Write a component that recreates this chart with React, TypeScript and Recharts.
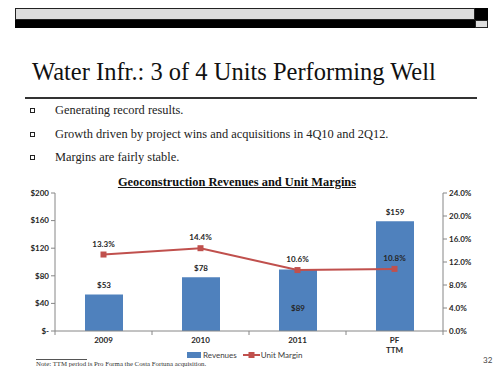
import { ComposedChart, Bar, Line, XAxis, YAxis, Legend, LabelList } from "recharts";

// Geoconstruction figures ($M revenues, unit margin %)
const categories = ["2009", "2010", "2011", "PF TTM"];
const revenues = [53, 78, 89, 159];
const margins = [13.3, 14.4, 10.6, 10.8];
const revenueTicks = [0, 40, 80, 120, 160, 200];
const marginTicks = [0, 4, 8, 12, 16, 20, 24];
const bullets = [
  "Generating record results.",
  "Growth driven by project wins and acquisitions in 4Q10 and 2Q12.",
  "Margins are fairly stable.",
];

const data = categories.map((name, i) => ({ name, revenue: revenues[i], margin: margins[i] }));

const BLUE = "#4F81BD";
const RED = "#C0504D";
const AXIS = "#868686";
const SANS = "Lato, 'Open Sans', sans-serif";
const SERIF = "'Liberation Serif', serif";
const LABEL_STYLE = { fontFamily: SANS, fontSize: 8, fontWeight: 700, fill: "#262626" };

// the $89 label sits inside its bar in the original
const INSIDE = [false, false, true, false];

function CategoryTick(props: any) {
  const { x, y, payload, index, visibleTicksCount } = props;
  const lines = String(payload.value).split(" ");
  const half = 48.5;
  const axisY = y - 6;
  return (
    <g>
      {index === 0 && <line x1={x - half} x2={x - half} y1={axisY} y2={axisY + 4} stroke={AXIS} />}
      {index < (visibleTicksCount ?? 4) && (
        <line x1={x + half} x2={x + half} y1={axisY} y2={axisY + 4} stroke={AXIS} />
      )}
      {lines.map((l, i) => (
        <text key={i} x={x} y={y + i * 10} dy="0.71em" textAnchor="middle" {...LABEL_STYLE}>
          {l}
        </text>
      ))}
    </g>
  );
}

function RevenueLabel(props: any) {
  const { x, y, width, height, value, index } = props;
  const cx = x + width / 2;
  const ty = INSIDE[index] ? y + height * 0.62 : y - 9;
  return (
    <text x={cx} y={ty} textAnchor="middle" dominantBaseline="central" {...LABEL_STYLE}>
      ${value}
    </text>
  );
}

function MarginLabel(props: any) {
  const { x, y, value } = props;
  return (
    <text x={x} y={y - 11} textAnchor="middle" dominantBaseline="central" {...LABEL_STYLE}>
      {Number(value).toFixed(1)}%
    </text>
  );
}

function SquareDot(props: any) {
  const { cx, cy } = props;
  if (cx == null || cy == null) return null;
  return <rect x={cx - 3} y={cy - 3} width={6} height={6} fill={RED} />;
}

function LegendContent() {
  const txt = { fontFamily: SANS, fontSize: 8, color: "#404040" };
  return (
    <div style={{ display: "flex", alignItems: "center", ...txt }}>
      <span style={{ width: 14, height: 6, background: BLUE, marginRight: 2 }} />
      <span style={{ marginRight: 6 }}>Revenues</span>
      <svg width={17} height={8} style={{ marginRight: 1 }}>
        <line x1={0} x2={17} y1={4} y2={4} stroke={RED} strokeWidth={2} />
        <rect x={5.5} y={1} width={6} height={6} fill={RED} />
      </svg>
      <span>Unit Margin</span>
    </div>
  );
}

export default function App() {
  return (
    <div style={{ position: "absolute", left: 0, top: 0, width: 498, height: 374, background: "#fff", overflow: "hidden" }}>
      {/* header band */}
      <div style={{ position: "absolute", left: 15, top: 8, width: 460, height: 12, background: "#dddddd", boxSizing: "border-box", border: "1px solid #222" }} />
      <div style={{ position: "absolute", left: 15, top: 20, width: 460, height: 8, background: "#000" }} />
      <div style={{ position: "absolute", left: 475, top: 8, width: 13, height: 12, background: "#000" }} />
      <div style={{ position: "absolute", left: 475, top: 20, width: 13, height: 8, background: "#dddddd", boxSizing: "border-box", border: "1px solid #222" }} />

      <div style={{ position: "absolute", left: 32, top: 58, fontFamily: SERIF, fontSize: 24.5, color: "#111", whiteSpace: "nowrap" }}>
        Water Infr.: 3 of 4 Units Performing Well
      </div>
      <div style={{ position: "absolute", left: 25, top: 97, width: 452, height: 1.5, background: "#333" }} />

      {bullets.map((b, i) => (
        <div key={i} style={{ position: "absolute", left: 30, top: [110, 134, 157][i] - 8, height: 16, display: "flex", alignItems: "center", whiteSpace: "nowrap" }}>
          <span style={{ width: 5, height: 5, border: "1px solid #222", boxSizing: "border-box", marginRight: 20 }} />
          <span style={{ fontFamily: SERIF, fontSize: 12.4, color: "#222" }}>{b}</span>
        </div>
      ))}

      <div style={{ position: "absolute", left: 0, width: 474, top: 175, textAlign: "center", fontFamily: SERIF, fontSize: 12.4, fontWeight: 700, textDecoration: "underline", color: "#111" }}>
        Geoconstruction Revenues and Unit Margins
      </div>

      <div style={{ position: "absolute", left: 0, top: 0 }}>
        <ComposedChart width={498} height={374} data={data} margin={{ top: 193, right: 0, bottom: 0, left: 0 }}>
          <XAxis
            dataKey="name"
            height={43}
            tickSize={4}
            tickMargin={2}
            tickLine={false}
            axisLine={{ stroke: AXIS }}
            tick={<CategoryTick />}
            interval={0}
          />
          <YAxis
            yAxisId="rev"
            orientation="left"
            width={55}
            domain={[0, 200]}
            ticks={revenueTicks}
            tickSize={4}
            tickMargin={2}
            axisLine={{ stroke: AXIS }}
            tickLine={{ stroke: AXIS }}
            tick={LABEL_STYLE}
            tickFormatter={(v: number) => (v === 0 ? "$-" : `$${v}`)}
          />
          <YAxis
            yAxisId="pct"
            orientation="right"
            width={55}
            domain={[0, 24]}
            ticks={marginTicks}
            tickSize={4}
            tickMargin={2}
            axisLine={{ stroke: AXIS }}
            tickLine={{ stroke: AXIS }}
            tick={LABEL_STYLE}
            tickFormatter={(v: number) => `${v.toFixed(1)}%`}
          />
          <Bar yAxisId="rev" dataKey="revenue" name="Revenues" fill={BLUE} barSize={38} isAnimationActive={false}>
            <LabelList dataKey="revenue" content={<RevenueLabel />} />
          </Bar>
          <Line
            yAxisId="pct"
            dataKey="margin"
            name="Unit Margin"
            stroke={RED}
            strokeWidth={2}
            dot={<SquareDot />}
            activeDot={false}
            isAnimationActive={false}
          >
            <LabelList dataKey="margin" content={<MarginLabel />} />
          </Line>
          <Legend
            layout="horizontal"
            verticalAlign="middle"
            align="center"
            content={<LegendContent />}
            wrapperStyle={{ top: 350, left: 187, width: 120, height: 12 }}
          />
        </ComposedChart>
      </div>

      <div style={{ position: "absolute", left: 36, top: 359, width: 51, height: 1, background: "#555" }} />
      <div style={{ position: "absolute", left: 36, top: 360, fontFamily: SERIF, fontSize: 6.8, color: "#333", whiteSpace: "nowrap" }}>
        Note: TTM period is Pro Forma the Costa Fortuna acquisition.
      </div>
      <div style={{ position: "absolute", left: 483, top: 355, fontFamily: SANS, fontSize: 8, color: "#444" }}>32</div>
    </div>
  );
}
